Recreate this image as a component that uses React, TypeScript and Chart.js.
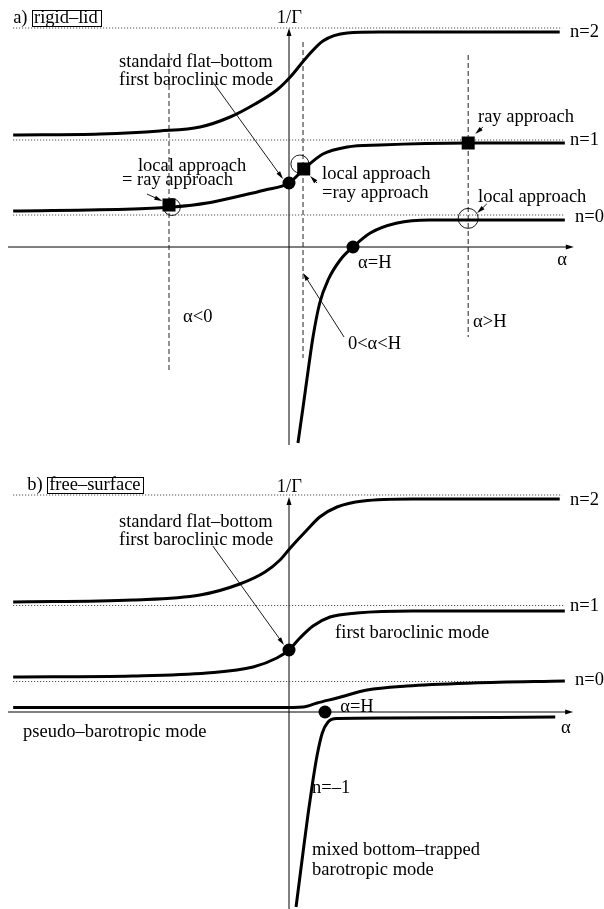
import React, { useEffect, useRef } from "react";
import { Chart, registerables } from "chart.js";

Chart.register(...registerables);

type Pt = { x: number; y: number };
const P = (x: number, y: number): Pt => ({ x, y });

// Horizontal axis: alpha (rigid-lid alpha = H sits at 1)
const ALPHA_MIN = -4.515625;
const ALPHA_MAX = 4.921875;

// ---------- a) rigid-lid ----------
const rigidN2: Pt[] = [
  P(-4.31, 5.6), P(-2.95, 5.65), P(-2.02, 5.8), P(-1.39, 6.0), P(-0.92, 6.5),
  P(-0.53, 7.15), P(-0.19, 7.85), P(0.02, 8.5), P(0.28, 9.5), P(0.53, 10.3),
  P(0.91, 10.7), P(1.42, 10.75), P(4.23, 10.75),
];
const rigidN1: Pt[] = [
  P(-4.31, 1.8), P(-2.44, 1.9), P(-1.81, 2.0), P(-1.28, 2.2), P(-0.77, 2.55),
  P(-0.375, 2.85), P(0, 3.2), P(0.25, 3.95), P(0.53, 4.65), P(0.91, 5.0),
  P(1.42, 5.1), P(2.8, 5.2), P(4.31, 5.2),
];
const rigidN0: Pt[] = [
  P(0.14, -9.8), P(0.22, -8.0), P(0.3, -6.15), P(0.375, -4.5), P(0.48, -2.8),
  P(0.61, -1.65), P(0.8, -0.65), P(1.0, 0), P(1.27, 0.7), P(1.69, 1.2),
  P(2.2, 1.35), P(4.31, 1.35),
];
const rigidDots: Pt[] = [P(0, 3.2), P(1.0, 0)];
const rigidSquares: Pt[] = [P(-1.875, 2.1), P(0.23, 3.9), P(2.8, 5.2)];
const rigidRings: Pt[] = [P(-1.83, 2.0), P(0.17, 4.15), P(2.8, 1.43)];
const rigidLevels = [10.95, 5.35, 1.6];
const rigidRegionX = [-1.875, 0.219, 2.8];
const rigidRegionTop = [9.7, 10.25, 9.6];
const rigidRegionBottom = [-6.2, -5.55, -4.5];

// ---------- b) free-surface ----------
const freeN2: Pt[] = [
  P(-4.31, 5.5), P(-2.44, 5.6), P(-1.39, 5.85), P(-0.77, 6.4), P(-0.375, 7.0),
  P(-0.14, 7.6), P(0.02, 8.2), P(0.28, 9.1), P(0.48, 9.75), P(0.75, 10.25),
  P(1.16, 10.55), P(1.94, 10.65), P(4.23, 10.65),
];
const freeN1: Pt[] = [
  P(-4.31, 1.75), P(-2.44, 1.8), P(-1.28, 1.95), P(-0.56, 2.25), P(-0.19, 2.7),
  P(0, 3.1), P(0.17, 3.7), P(0.375, 4.3), P(0.64, 4.75), P(1.06, 4.95),
  P(1.94, 5.05), P(4.31, 5.05),
];
const freeN0: Pt[] = [
  P(-4.31, 0.225), P(-0.14, 0.225), P(0.22, 0.25), P(0.44, 0.45), P(0.75, 0.7),
  P(1.22, 1.1), P(1.84, 1.3), P(2.875, 1.45), P(4.31, 1.55),
];
const freeNm1: Pt[] = [
  P(0.11, -9.75), P(0.23, -6.75), P(0.3, -5.05), P(0.375, -3.4), P(0.44, -2.15),
  P(0.52, -1.05), P(0.61, -0.5), P(0.75, -0.325), P(1.5, -0.3), P(4.16, -0.25),
];
const freeDots: Pt[] = [P(0, 3.1), P(0.5625, 0)];
const freeLevels = [10.85, 5.325, 1.525];

type Label = { text: string; at: Pt };
type Arrow = { from: Pt; to: Pt };

type PanelSpec = {
  yMin: number;
  yMax: number;
  curves: Pt[][];
  dots: Pt[];
  squares: Pt[];
  rings: Pt[];
  ringRadii: number[];
  levels: number[];
  levelTops: number[];
  regions: { x: number[]; top: number[]; bottom: number[] };
  xAxis: [number, number];
  yAxis: [number, number];
  tag: { letter: string; name: string; at: Pt };
  labels: Label[];
  arrows: Arrow[];
};

const FONT = '18.5px "Liberation Serif", "Times New Roman", serif';
const INK = "#000";

const rigidSpec: PanelSpec = {
  yMin: -10.15,
  yMax: 12.35,
  curves: [rigidN2, rigidN1, rigidN0],
  dots: rigidDots,
  squares: rigidSquares,
  rings: rigidRings,
  ringRadii: [8.5, 9, 10],
  levels: rigidLevels,
  levelTops: [4.27, 4.31, 4.31],
  regions: { x: rigidRegionX, top: rigidRegionTop, bottom: rigidRegionBottom },
  xAxis: [-4.39, 4.45],
  yAxis: [-9.9, 10.95],
  tag: { letter: "a)", name: "rigid\u2013lid", at: P(-4.31, 11.45) },
  labels: [
    { text: "1/\u0393", at: P(-0.19, 11.45) },
    { text: "standard flat\u2013bottom", at: P(-2.656, 9.25) },
    { text: "first baroclinic mode", at: P(-2.656, 8.35) },
    { text: "local approach", at: P(-2.36, 4.05) },
    { text: "= ray approach", at: P(-2.61, 3.35) },
    { text: "ray approach", at: P(2.953, 6.5) },
    { text: "local approach", at: P(0.516, 3.65) },
    { text: "=ray approach", at: P(0.516, 2.7) },
    { text: "local approach", at: P(2.953, 2.5) },
    { text: "n=2", at: P(4.39, 10.75) },
    { text: "n=1", at: P(4.39, 5.35) },
    { text: "n=0", at: P(4.47, 1.5) },
    { text: "\u03b1", at: P(4.19, -0.65) },
    { text: "\u03b1=H", at: P(1.08, -0.8) },
    { text: "\u03b1<0", at: P(-1.656, -3.5) },
    { text: "0<\u03b1<H", at: P(0.92, -4.85) },
    { text: "\u03b1>H", at: P(2.875, -3.75) },
  ],
  arrows: [
    { from: P(-1.19, 8.25), to: P(-0.094, 3.4) },
    { from: P(-2.22, 2.65), to: P(-1.98, 2.3) },
    { from: P(3.03, 6.0), to: P(2.91, 5.65) },
    { from: P(0.4375, 3.2), to: P(0.33, 3.55) },
    { from: P(3.09, 2.15), to: P(2.94, 1.7) },
    { from: P(0.86, -4.5), to: P(0.22, -1.3) },
  ],
};

const freeSpec: PanelSpec = {
  yMin: -9.85,
  yMax: 13.1,
  curves: [freeN2, freeN1, freeN0, freeNm1],
  dots: freeDots,
  squares: [],
  rings: [],
  ringRadii: [],
  levels: freeLevels,
  levelTops: [4.27, 4.31, 4.31],
  regions: { x: [], top: [], bottom: [] },
  xAxis: [-4.39, 4.44],
  yAxis: [-9.9, 10.75],
  tag: { letter: "b)", name: "free\u2013surface", at: P(-4.09, 11.35) },
  labels: [
    { text: "1/\u0393", at: P(-0.19, 11.25) },
    { text: "standard flat\u2013bottom", at: P(-2.656, 9.5) },
    { text: "first baroclinic mode", at: P(-2.656, 8.6) },
    { text: "first baroclinic mode", at: P(0.72, 3.95) },
    { text: "n=2", at: P(4.39, 10.6) },
    { text: "n=1", at: P(4.39, 5.3) },
    { text: "n=0", at: P(4.47, 1.6) },
    { text: "\u03b1=H", at: P(0.8, 0.25) },
    { text: "\u03b1", at: P(4.25, -0.8) },
    { text: "pseudo\u2013barotropic mode", at: P(-4.156, -1.0) },
    { text: "n=\u20131", at: P(0.36, -3.8) },
    { text: "mixed bottom\u2013trapped", at: P(0.36, -6.9) },
    { text: "barotropic mode", at: P(0.36, -7.9) },
  ],
  arrows: [{ from: P(-1.19, 8.3), to: P(-0.078, 3.35) }],
};

function drawArrow(
  ctx: CanvasRenderingContext2D,
  x0: number, y0: number, x1: number, y1: number,
  len: number, half: number, width: number
) {
  const ang = Math.atan2(y1 - y0, x1 - x0);
  ctx.save();
  ctx.strokeStyle = INK;
  ctx.fillStyle = INK;
  ctx.lineWidth = width;
  ctx.beginPath();
  ctx.moveTo(x0, y0);
  ctx.lineTo(x1 - Math.cos(ang) * len * 0.6, y1 - Math.sin(ang) * len * 0.6);
  ctx.stroke();
  ctx.beginPath();
  ctx.moveTo(x1, y1);
  ctx.lineTo(
    x1 - Math.cos(ang) * len - Math.sin(ang) * half,
    y1 - Math.sin(ang) * len + Math.cos(ang) * half
  );
  ctx.lineTo(
    x1 - Math.cos(ang) * len + Math.sin(ang) * half,
    y1 - Math.sin(ang) * len - Math.cos(ang) * half
  );
  ctx.closePath();
  ctx.fill();
  ctx.restore();
}

function buildDatasets(spec: PanelSpec) {
  const sets: any[] = [];
  sets.push({
    data: spec.dots,
    showLine: false,
    pointStyle: "circle",
    pointRadius: 6.5,
    backgroundColor: INK,
    borderWidth: 0,
  });
  if (spec.squares.length) {
    sets.push({
      data: spec.squares,
      showLine: false,
      pointStyle: "rect",
      pointRadius: 9.2,
      backgroundColor: INK,
      borderWidth: 0,
    });
  }
  if (spec.rings.length) {
    sets.push({
      data: spec.rings,
      showLine: false,
      pointStyle: "circle",
      pointRadius: spec.ringRadii,
      backgroundColor: "rgba(0,0,0,0)",
      borderColor: INK,
      borderWidth: 0.9,
    });
  }
  spec.curves.forEach((c) =>
    sets.push({
      data: c,
      showLine: true,
      borderColor: INK,
      borderWidth: 3,
      pointRadius: 0,
      cubicInterpolationMode: "monotone",
      fill: false,
    })
  );
  spec.levels.forEach((y, i) =>
    sets.push({
      data: [P(-4.31, y), P(spec.levelTops[i], y)],
      showLine: true,
      borderColor: "#333",
      borderWidth: 1,
      borderDash: [1, 2],
      pointRadius: 0,
    })
  );
  spec.regions.x.forEach((x, i) =>
    sets.push({
      data: [P(x, spec.regions.top[i]), P(x, spec.regions.bottom[i])],
      showLine: true,
      borderColor: "#222",
      borderWidth: 1,
      borderDash: [5, 3],
      pointRadius: 0,
    })
  );
  return sets;
}

function makePlugin(spec: PanelSpec) {
  return {
    id: "schematic",
    beforeDatasetsDraw(chart: any) {
      const { ctx, scales } = chart;
      const xs = scales.x;
      const ys = scales.y;
      const y0 = ys.getPixelForValue(0);
      const x0 = xs.getPixelForValue(0);
      ctx.save();
      // alpha axis
      drawArrow(
        ctx,
        xs.getPixelForValue(spec.xAxis[0]), y0,
        xs.getPixelForValue(spec.xAxis[1]), y0,
        8, 2.5, 1
      );
      // 1/Gamma axis
      drawArrow(
        ctx,
        x0, ys.getPixelForValue(spec.yAxis[0]),
        x0, ys.getPixelForValue(spec.yAxis[1]),
        8, 2.5, 1
      );
      ctx.restore();
    },
    afterDatasetsDraw(chart: any) {
      const { ctx, scales } = chart;
      const xs = scales.x;
      const ys = scales.y;
      ctx.save();
      ctx.font = FONT;
      ctx.fillStyle = INK;
      ctx.textAlign = "left";
      ctx.textBaseline = "middle";
      spec.labels.forEach((l) => {
        ctx.fillText(l.text, xs.getPixelForValue(l.at.x), ys.getPixelForValue(l.at.y));
      });
      // panel tag with boxed name
      const tx = xs.getPixelForValue(spec.tag.at.x);
      const ty = ys.getPixelForValue(spec.tag.at.y);
      ctx.fillText(spec.tag.letter, tx, ty);
      const bx = tx + ctx.measureText(spec.tag.letter).width + 4;
      const nw = ctx.measureText(spec.tag.name).width;
      ctx.fillStyle = "#fff";
      ctx.fillRect(bx, ty - 8, nw + 5, 16);
      ctx.fillStyle = INK;
      ctx.fillText(spec.tag.name, bx + 2.5, ty + 0.5);
      ctx.strokeStyle = INK;
      ctx.lineWidth = 1;
      ctx.strokeRect(Math.round(bx) + 0.5, Math.round(ty - 8) + 0.5, Math.round(nw + 5), 16);
      spec.arrows.forEach((a) =>
        drawArrow(
          ctx,
          xs.getPixelForValue(a.from.x), ys.getPixelForValue(a.from.y),
          xs.getPixelForValue(a.to.x), ys.getPixelForValue(a.to.y),
          8, 2.2, 0.9
        )
      );
      ctx.restore();
    },
  };
}

function Panel({ spec, top, height }: { spec: PanelSpec; top: number; height: number }) {
  const ref = useRef<HTMLCanvasElement | null>(null);
  useEffect(() => {
    if (!ref.current) return;
    const chart = new Chart(ref.current, {
      type: "scatter",
      data: { datasets: buildDatasets(spec) },
      options: {
        responsive: false,
        maintainAspectRatio: false,
        animation: false,
        devicePixelRatio: 1,
        events: [],
        layout: { padding: 0, autoPadding: false },
        plugins: { legend: { display: false }, tooltip: { enabled: false } },
        scales: {
          x: { type: "linear", min: ALPHA_MIN, max: ALPHA_MAX, display: false },
          y: { type: "linear", min: spec.yMin, max: spec.yMax, display: false },
        },
      } as any,
      plugins: [makePlugin(spec)],
    });
    return () => chart.destroy();
  }, [spec]);
  return (
    <canvas
      ref={ref}
      width={604}
      height={height}
      style={{ position: "absolute", left: 0, top, width: 604, height, display: "block" }}
    />
  );
}

export default function App() {
  return (
    <div style={{ position: "absolute", left: 0, top: 0, width: 604, height: 909, background: "#fff" }}>
      <Panel spec={rigidSpec} top={0} height={450} />
      <Panel spec={freeSpec} top={450} height={459} />
    </div>
  );
}
